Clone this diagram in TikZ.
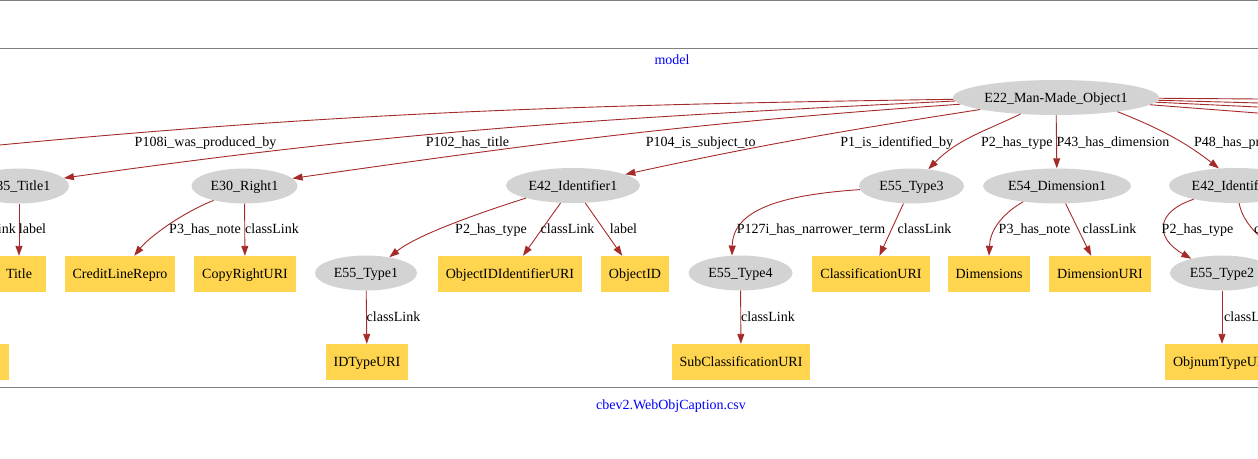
\documentclass[tikz,border=0pt]{standalone}
\usepackage{fontspec}
\setmainfont{Liberation Serif}
\usetikzlibrary{arrows.meta,shapes.geometric}
\definecolor{edgebrown}{RGB}{165,42,42}
\definecolor{nodegray}{RGB}{211,211,211}
\definecolor{boxgold}{RGB}{255,213,79}
\definecolor{framegray}{RGB}{128,128,128}
\definecolor{capblue}{RGB}{0,0,255}

\begin{document}
\begin{tikzpicture}[x=1pt,y=1pt,
  every node/.style={font=\fontsize{14pt}{16pt}\selectfont},
  classnode/.style={ellipse, fill=nodegray, inner sep=0pt, minimum height=35pt,
    text height=11pt, text depth=2pt},
  literalnode/.style={rectangle, fill=boxgold, inner xsep=8pt, inner ysep=0pt,
    minimum height=36pt, minimum width=54pt, text height=11pt, text depth=2pt},
  edgeline/.style={draw=edgebrown, line width=0.9pt,
    -{Triangle[length=10pt,width=7pt]}},
  edgelabel/.style={anchor=base, inner sep=0pt},
  clusterline/.style={draw=framegray, line width=1.8pt},
  captext/.style={text=capblue, inner sep=0pt, anchor=base}
]
\useasboundingbox (0,0) rectangle (1258,-458);
\clip (0,0) rectangle (1258,-458);

% cluster borders and titles
\draw[clusterline] (0,-0.5) -- (1258,-0.5);
\draw[clusterline] (0,-48.5) -- (1258,-48.5);
\draw[clusterline] (0,-387.5) -- (1258,-387.5);
\node[captext] (modeltitle) at (672,-64) {model};
\node[captext] (filetitle) at (671,-409) {cbev2.WebObjCaption.csv};

% class nodes
\node[classnode, minimum width=206pt] (e22) at (1056,-97.5) {E22\_Man-Made\_Object1};
\node[classnode, minimum width=100pt] (title1) at (19,-186) {E35\_Title1};
\node[classnode, minimum width=106pt] (right1) at (244.5,-186) {E30\_Right1};
\node[classnode, minimum width=134pt] (ident1) at (573,-185.5) {E42\_Identifier1};
\node[classnode, minimum width=105pt] (type3) at (911.5,-186) {E55\_Type3};
\node[classnode, minimum width=148pt] (dim1) at (1057,-186) {E54\_Dimension1};
\node[classnode, minimum width=134pt] (ident2) at (1236,-185.5) {E42\_Identifier2};
\node[classnode, minimum width=102pt] (type1) at (366,-273) {E55\_Type1};
\node[classnode, minimum width=104pt] (type4) at (740.5,-273) {E55\_Type4};
\node[classnode, minimum width=104pt] (type2) at (1222,-273) {E55\_Type2};

% literal nodes
\node[literalnode] (titlebox) at (19,-274) {Title};
\node[literalnode] (credit) at (120,-274) {CreditLineRepro};
\node[literalnode] (copyright) at (245,-274) {CopyRightURI};
\node[literalnode] (objiduri) at (510,-274) {ObjectIDIdentifierURI};
\node[literalnode] (objectid) at (635,-274) {ObjectID};
\node[literalnode] (classuri) at (871,-274) {ClassificationURI};
\node[literalnode] (dims) at (989,-274) {Dimensions};
\node[literalnode] (dimuri) at (1100,-274) {DimensionURI};
\node[literalnode, minimum width=58pt] (leftbox) at (-20,-362) {};
\node[literalnode] (idtype) at (367,-362) {IDTypeURI};
\node[literalnode] (subclass) at (741,-362) {SubClassificationURI};
\node[literalnode] (objnum) at (1222,-362) {ObjnumTypeURI};

% ends of edges that leave the frame
\coordinate (prodend) at (-150,-160);
\coordinate (east1) at (1300,-99.3);
\coordinate (east2) at (1300,-104.1);
\coordinate (east3) at (1300,-109);
\coordinate (east4) at (1300,-116.3);
\coordinate (ident2end) at (1300,-258);

% edges from the object
\draw[edgeline] (e22.181) .. controls (520,-105.6) and (281,-115) .. (prodend);
\draw[edgeline] (e22.182) .. controls (605,-118) and (404,-130) .. (title1.10);
\draw[edgeline] (e22.184) .. controls (697,-122.5) and (554,-141) .. (right1.9);
\draw[edgeline] (e22.189) .. controls (842,-131) and (765,-144) .. (ident1.12);
\draw[edgeline] (e22.205) .. controls (983,-132) and (958,-139) .. (type3.45);
\draw[edgeline] (e22) -- (dim1);
\draw[edgeline] (e22.347) .. controls (1164,-130) and (1189,-145) .. (ident2.135);
\draw[edgeline] (e22) -- (east1);
\draw[edgeline] (e22) -- (east2);
\draw[edgeline] (e22) -- (east3);
\draw[edgeline] (e22) -- (east4);

% second level edges
\draw[edgeline] (title1) -- (titlebox);
\draw[edgeline] (right1.205) .. controls (184,-212) and (150,-236) .. (credit.52);
\draw[edgeline] (right1) -- (copyright);
\draw[edgeline] (ident1.195) .. controls (476,-214) and (417,-235) .. (type1.34);
\draw[edgeline] (ident1) -- (objiduri);
\draw[edgeline] (ident1) -- (objectid);
\draw[edgeline] (type3.184) .. controls (780,-195) and (733,-210) .. (type4.116);
\draw[edgeline] (type3) -- (classuri);
\draw[edgeline] (dim1.205) .. controls (1000,-215) and (990,-232) .. (dims.north);
\draw[edgeline] (dim1) -- (dimuri);
\draw[edgeline] (ident2.198) .. controls (1155,-212) and (1155,-238) .. (type2.155);
\draw[edgeline] (ident2.280) .. controls (1243,-225) and (1265,-245) .. (ident2end);

% third level edges
\draw[edgeline] (type1) -- (idtype);
\draw[edgeline] (type4) -- (subclass);
\draw[edgeline] (type2) -- (objnum);

% edge labels
\node[edgelabel] (l108) at (205.5,-146) {P108i\_was\_produced\_by};
\node[edgelabel] (l102) at (467.5,-146) {P102\_has\_title};
\node[edgelabel] (l104) at (700.7,-146) {P104\_is\_subject\_to};
\node[edgelabel] (l1) at (896.8,-146) {P1\_is\_identified\_by};
\node[edgelabel] (l2a) at (1016.8,-146) {P2\_has\_type};
\node[edgelabel] (l43) at (1113,-146) {P43\_has\_dimension};
\node[edgelabel, anchor=base west] (l48) at (1194,-146) {P48\_has\_preferred\_identifier};

\node[edgelabel, anchor=base east] (lt1) at (16,-233) {classLink};
\node[edgelabel] (lt2) at (32.5,-233) {label};
\node[edgelabel] (lr1) at (205,-233) {P3\_has\_note};
\node[edgelabel] (lr2) at (272,-233) {classLink};
\node[edgelabel] (li1) at (491,-233) {P2\_has\_type};
\node[edgelabel] (li2) at (567.5,-233) {classLink};
\node[edgelabel] (li3) at (623.5,-233) {label};
\node[edgelabel] (lty1) at (811,-233) {P127i\_has\_narrower\_term};
\node[edgelabel] (lty2) at (924.5,-233) {classLink};
\node[edgelabel] (ld1) at (1034.5,-233) {P3\_has\_note};
\node[edgelabel] (ld2) at (1109.5,-233) {classLink};
\node[edgelabel] (lj1) at (1197.5,-233) {P2\_has\_type};
\node[edgelabel, anchor=base west] (lj2) at (1254,-233) {classLink};

\node[edgelabel] (lc1) at (393.5,-321) {classLink};
\node[edgelabel] (lc2) at (768,-321) {classLink};
\node[edgelabel, anchor=base west] (lc3) at (1224,-321) {classLink};
\end{tikzpicture}
\end{document}
